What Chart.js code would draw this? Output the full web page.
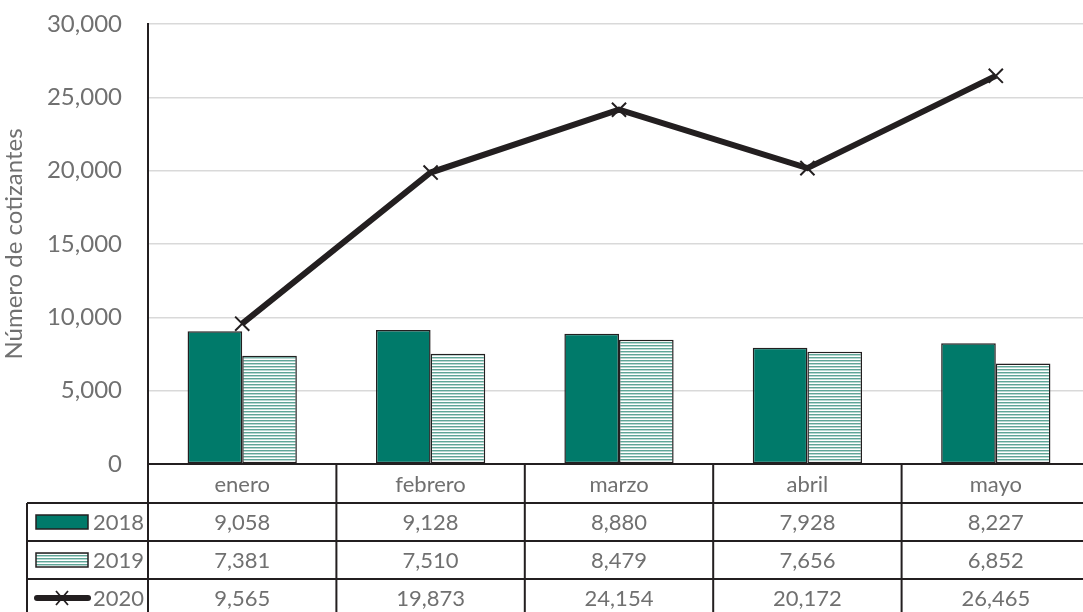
<!DOCTYPE html>
<html>
<head>
<meta charset="utf-8">
<script src="https://cdn.jsdelivr.net/npm/chart.js@4.4.1/dist/chart.umd.min.js"></script>
<style>
  html, body { margin: 0; padding: 0; background: #fff; overflow: hidden; }
  #wrap { width: 1083px; height: 612px; overflow: hidden; }
</style>
</head>
<body>
<div id="wrap"><canvas id="chart" width="1102" height="612"></canvas></div>
<script>
// monthly data
var meses = ["enero", "febrero", "marzo", "abril", "mayo"];
var serie2018 = [9058, 9128, 8880, 7928, 8227];
var serie2019 = [7381, 7510, 8479, 7656, 6852];
var serie2020 = [9565, 19873, 24154, 20172, 26465];
var series = ["2018", "2019", "2020"];

var textColor = "#707070";
var fontFam = "Lato, 'Open Sans', sans-serif";
var teal = "#007a6a";
var ink = "#231f20";

function fmt(v) { return v.toLocaleString("en-US"); }

// horizontal hatch for 2019
function hatch() {
  var c = document.createElement("canvas");
  c.width = 4; c.height = 3;
  var g = c.getContext("2d");
  g.fillStyle = "#ffffff"; g.fillRect(0, 0, 4, 3);
  g.fillStyle = "#5fa597"; g.fillRect(0, 0, 4, 1);
  g.fillStyle = "#b7d8d1"; g.fillRect(0, 1, 4, 1);
  return g.createPattern(c, "repeat");
}

// data table under the x axis
var tablePlugin = {
  id: "dataTable",
  afterDraw: function(chart) {
    var ctx = chart.ctx;
    var x = chart.scales.x;
    var area = chart.chartArea;
    var step = x.getPixelForValue(1) - x.getPixelForValue(0);
    var b = area.bottom;
    var rows = [b, b + 39, b + 77, b + 115, b + 153];
    var leftEdge = 27;
    var values = [serie2018, serie2019, serie2020];

    ctx.save();
    ctx.strokeStyle = ink;
    ctx.lineWidth = 2;
    ctx.beginPath();
    // horizontal lines
    ctx.moveTo(area.left, rows[0]); ctx.lineTo(area.right, rows[0]);
    for (var r = 1; r < rows.length; r++) {
      ctx.moveTo(leftEdge, rows[r]); ctx.lineTo(area.right, rows[r]);
    }
    // vertical lines
    ctx.moveTo(leftEdge, rows[1]); ctx.lineTo(leftEdge, rows[4]);
    ctx.moveTo(area.left, area.top); ctx.lineTo(area.left, rows[4]);
    for (var i = 0; i <= meses.length; i++) {
      var bx = x.getPixelForValue(i) + step / 2;
      ctx.moveTo(bx, rows[0]); ctx.lineTo(bx, rows[4]);
    }
    ctx.stroke();

    ctx.fillStyle = textColor;
    ctx.font = "22px " + fontFam;
    ctx.textAlign = "center";
    ctx.textBaseline = "middle";
    meses.forEach(function(m, i) {
      var cx = x.getPixelForValue(i);
      ctx.fillText(m, cx, (rows[0] + rows[1]) / 2 + 1);
      for (var s = 0; s < 3; s++) {
        ctx.fillText(fmt(values[s][i]), cx, (rows[s + 1] + rows[s + 2]) / 2 + 1);
      }
    });

    // legend keys
    ctx.textAlign = "right";
    for (var s = 0; s < 3; s++) {
      var cy = (rows[s + 1] + rows[s + 2]) / 2;
      ctx.fillStyle = textColor;
      ctx.fillText(series[s], area.left - 4, cy + 1);
      if (s < 2) {
        ctx.fillStyle = s === 0 ? teal : hatch();
        ctx.fillRect(36, cy - 7, 52, 14);
        ctx.lineWidth = 1.5;
        ctx.strokeStyle = ink;
        ctx.strokeRect(36, cy - 7, 52, 14);
      } else {
        ctx.strokeStyle = ink;
        ctx.lineWidth = 6;
        ctx.lineCap = "round";
        ctx.beginPath(); ctx.moveTo(37, cy); ctx.lineTo(88, cy); ctx.stroke();
        ctx.lineWidth = 1.8;
        ctx.lineCap = "butt";
        ctx.beginPath();
        ctx.moveTo(56, cy - 7); ctx.lineTo(68, cy + 7);
        ctx.moveTo(68, cy - 7); ctx.lineTo(56, cy + 7);
        ctx.stroke();
      }
    }
    ctx.restore();
  }
};

var ctx = document.getElementById("chart");
var chart = new Chart(ctx, {
  type: "bar",
  data: {
    labels: meses,
    datasets: [
      {
        label: series[0],
        data: serie2018,
        backgroundColor: teal,
        borderColor: ink,
        borderWidth: 1.5,
        borderSkipped: false,
        order: 1
      },
      {
        label: series[1],
        data: serie2019,
        backgroundColor: hatch(),
        borderColor: ink,
        borderWidth: 1.5,
        borderSkipped: false,
        order: 1
      },
      {
        type: "line",
        label: series[2],
        data: serie2020,
        borderColor: ink,
        borderWidth: 6,
        pointStyle: "crossRot",
        pointRadius: 10,
        pointBorderWidth: 2,
        pointBorderColor: ink,
        tension: 0,
        fill: false,
        order: 0
      }
    ]
  },
  options: {
    responsive: false,
    animation: false,
    layout: { padding: { top: 24, right: 1, left: 0, bottom: 0 } },
    plugins: {
      legend: { display: false },
      tooltip: { enabled: false }
    },
    datasets: {
      bar: { categoryPercentage: 0.58, barPercentage: 1 }
    },
    scales: {
      x: {
        ticks: { display: false },
        grid: { display: false, drawTicks: false },
        border: { display: true, color: ink, width: 2 },
        afterFit: function(s) { s.height = 148; }
      },
      y: {
        min: 0,
        max: 30000,
        ticks: {
          stepSize: 5000,
          color: textColor,
          font: { family: fontFam, size: 24 },
          padding: 26,
          callback: function(v) { return fmt(v); }
        },
        grid: { color: "#d9d9d9", lineWidth: 1.5, drawTicks: false },
        border: { display: true, color: ink, width: 2 },
        title: {
          display: true,
          text: "Número de cotizantes",
          color: textColor,
          font: { family: fontFam, size: 24 },
          padding: 0
        },
        afterFit: function(s) {
          s.width = 148;
          s.paddingTop = 0;
          s.paddingBottom = 0;
        }
      }
    }
  },
  plugins: [tablePlugin]
});
</script>
</body>
</html>
